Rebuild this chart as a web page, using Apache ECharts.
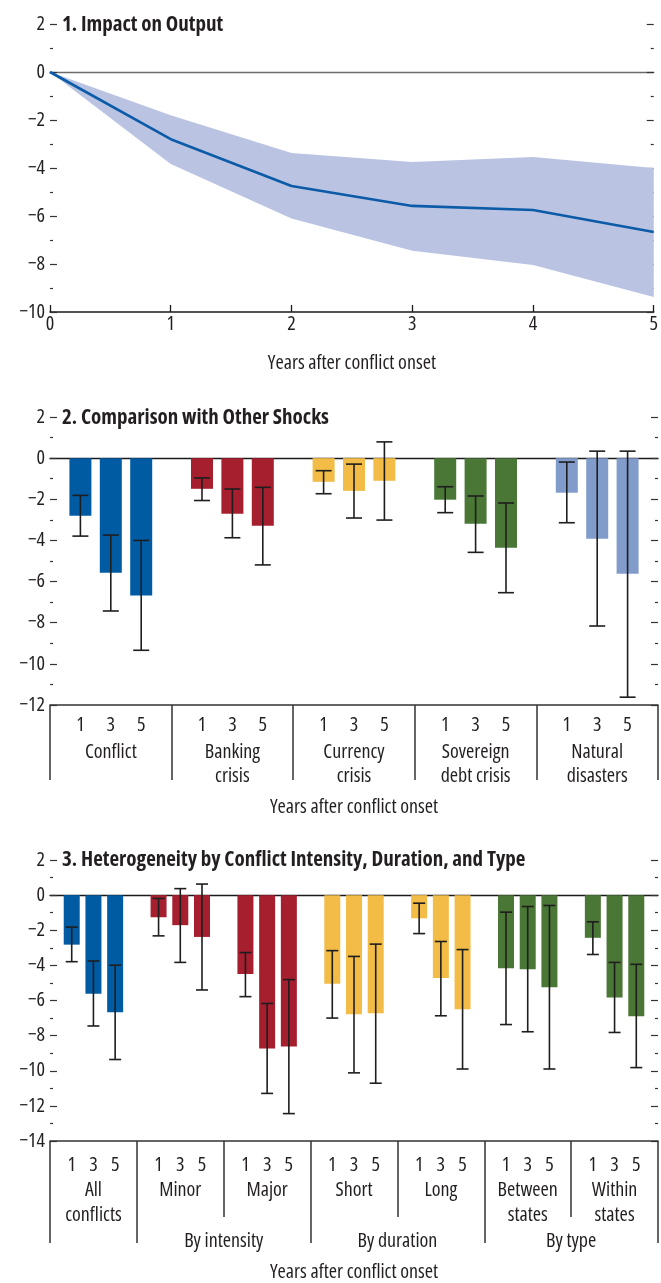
<!DOCTYPE html>
<html><head><meta charset="utf-8">
<script src="https://cdn.jsdelivr.net/npm/echarts@6/dist/echarts.min.js"></script>
<style>html,body{margin:0;padding:0;background:#fff}#c{width:661px;height:1283px}</style>
</head><body><div id="c"></div>
<script>
const FONT = "'Open Sans','DejaVu Sans Condensed',sans-serif";
const TXT = '#231F20';

// ---------- Panel 1: Impact on Output ----------
const p1Years    = [0, 1, 2, 3, 4, 5];
const p1Estimate = [0, -2.8, -4.75, -5.58, -5.75, -6.67];
const p1Upper    = [0, -1.8, -3.37, -3.75, -3.54, -4.0];
const p1Lower    = [0, -3.83, -6.1, -7.45, -8.04, -9.37];

// ---------- Panel 2: Comparison with Other Shocks ----------
const horizonLabels = ['1', '3', '5'];
const p2Groups = ['Conflict', 'Banking\ncrisis', 'Currency\ncrisis', 'Sovereign\ndebt crisis', 'Natural\ndisasters'];
const p2Values = [[-2.8, -5.57, -6.68], [-1.49, -2.7, -3.29], [-1.15, -1.59, -1.1], [-2.02, -3.19, -4.35], [-1.68, -3.92, -5.62]];
const p2High   = [[-1.81, -3.74, -4.0], [-0.96, -1.5, -1.42], [-0.61, -0.29, 0.79], [-1.39, -1.84, -2.18], [-0.19, 0.34, 0.34]];
const p2Low    = [[-3.79, -7.43, -9.34], [-2.06, -3.87, -5.19], [-1.73, -2.91, -3.01], [-2.65, -4.58, -6.54], [-3.14, -8.16, -11.62]];
const p2Colors = ['#005BA3', '#A61F2F', '#F2BC47', '#4A7636', '#819CCB'];

// ---------- Panel 3: Heterogeneity ----------
const p3Groups = ['All\nconflicts', 'Minor', 'Major', 'Short', 'Long', 'Between\nstates', 'Within\nstates'];
const p3SuperGroups = ['By intensity', 'By duration', 'By type'];
const p3SuperSpans  = [[1, 3], [3, 5], [5, 7]];   // group-index boundaries
const p3Values = [[-2.82, -5.61, -6.67], [-1.26, -1.71, -2.38], [-4.49, -8.73, -8.62], [-5.05, -6.78, -6.72], [-1.32, -4.72, -6.5], [-4.16, -4.22, -5.24], [-2.43, -5.83, -6.89]];
const p3High   = [[-1.82, -3.75, -3.99], [-0.19, 0.37, 0.63], [-3.27, -6.17, -4.81], [-3.16, -3.49, -2.79], [-0.46, -2.64, -3.1], [-0.97, -0.65, -0.59], [-1.52, -3.83, -3.94]];
const p3Low    = [[-3.79, -7.45, -9.36], [-2.32, -3.83, -5.4], [-5.78, -11.29, -12.44], [-7.0, -10.12, -10.71], [-2.19, -6.87, -9.9], [-7.37, -7.78, -9.9], [-3.38, -7.82, -9.82]];
const p3Colors = ['#005BA3', '#A61F2F', '#A61F2F', '#F2BC47', '#F2BC47', '#4A7636', '#4A7636'];

const titles = ['1. Impact on Output', '2. Comparison with Other Shocks', '3. Heterogeneity by Conflict Intensity, Duration, and Type'];
const xName = 'Years after conflict onset';

// ---------- helpers ----------
const FS = 20;
const fmtY = v => (v < 0 ? '\u2212' + Math.abs(v) : String(v));
const fmtH = v => { const r = v % 4; return r === 0 ? '' : horizonLabels[r - 1]; };
const txt = (size, extra) => Object.assign({ fontFamily: FONT, fontStyle: 'condensed', fontSize: size, color: TXT }, extra || {});

function yAxes(grid, min, max, right) {
  return {
    type: 'value', gridIndex: grid, min: min, max: max, interval: 2,
    position: right ? 'right' : 'left',
    axisLine: { show: false, onZero: false },
    axisTick: { show: true, inside: true, length: 7, lineStyle: { color: '#333', width: 1.2 } },
    minorTick: { show: true, splitNumber: 2, length: 3, lineStyle: { color: '#333', width: 1.2 } },
    splitLine: { show: false },
    axisLabel: right ? { show: false } : Object.assign(txt(FS), { margin: 5, formatter: fmtY })
  };
}
function zeroAxis(grid, max, color) {
  return {
    type: 'value', gridIndex: grid, min: 0, max: max, position: 'bottom',
    axisLine: { show: true, onZero: true, lineStyle: { color: color, width: 1.4 } },
    axisTick: { show: false }, axisLabel: { show: false }, splitLine: { show: false }
  };
}
function flatBars(values, colors) {
  const out = [];
  values.forEach((g, gi) => g.forEach((v, i) => out.push({ value: [gi * 4 + i + 1, v], itemStyle: { color: colors[gi] } })));
  return out;
}
function flatErr(high, low) {
  const out = [];
  high.forEach((g, gi) => g.forEach((h, i) => out.push([gi * 4 + i + 1, low[gi][i], h])));
  return out;
}
function errRender(capHalf) {
  return function (params, api) {
    const x = api.value(0);
    const a = api.coord([x, api.value(1)]);
    const b = api.coord([x, api.value(2)]);
    const st = { stroke: '#1E1E1E', lineWidth: 1.6 };
    return {
      type: 'group', children: [
        { type: 'line', shape: { x1: a[0], y1: a[1], x2: b[0], y2: b[1] }, style: st },
        { type: 'line', shape: { x1: a[0] - capHalf, y1: a[1], x2: a[0] + capHalf, y2: a[1] }, style: st },
        { type: 'line', shape: { x1: b[0] - capHalf, y1: b[1], x2: b[0] + capHalf, y2: b[1] }, style: st }
      ]
    };
  };
}
function bandRender(params, api) {
  if (params.dataIndexInside !== 0) return { type: 'group', children: [] };
  const n = params.dataInsideLength, top = [], bot = [];
  for (let i = 0; i < n; i++) {
    top.push(api.coord([api.value(0, i), api.value(2, i)]));
    bot.push(api.coord([api.value(0, i), api.value(1, i)]));
  }
  return { type: 'polygon', shape: { points: top.concat(bot.reverse()) }, style: { fill: '#BAC4E2' } };
}

const n2 = p2Groups.length * 4;
const n3 = p3Groups.length * 4;
const longDiv = [0];
p3SuperSpans.forEach(s => { if (longDiv.indexOf(s[0]) < 0) longDiv.push(s[0]); if (longDiv.indexOf(s[1]) < 0) longDiv.push(s[1]); });
const superCenters = p3SuperSpans.map(s => (s[0] + s[1]) / 2);

const option = {
  animation: false,
  backgroundColor: '#fff',
  title: titles.map((t, i) => ({
    text: t, left: 62, top: [15, 408, 850][i], padding: 0,
    textStyle: txt(21, { fontWeight: 'bold' })
  })),
  grid: [
    { left: 50, top: 24, width: 607, height: 288 },
    { left: 50, top: 417, width: 610, height: 288 },
    { left: 50, top: 860, width: 612.5, height: 287 }
  ],
  xAxis: [
    {
      type: 'value', gridIndex: 0, min: 0, max: 5, interval: 1, position: 'bottom',
      name: xName, nameLocation: 'middle', nameGap: 41, nameTextStyle: txt(FS),
      axisLine: { show: true, onZero: false, lineStyle: { color: '#1a1a1a', width: 1.5 } },
      axisTick: { show: true, inside: true, length: 7, lineStyle: { color: '#1a1a1a', width: 1.3 } },
      axisLabel: Object.assign(txt(FS), { margin: 2 }), splitLine: { show: false }
    },
    zeroAxis(0, 5, '#6b6b6b'),
    {
      type: 'value', gridIndex: 1, min: 0, max: n2, interval: 1, position: 'bottom',
      name: xName, nameLocation: 'middle', nameGap: 92, nameTextStyle: txt(FS),
      axisLine: { show: true, onZero: false, lineStyle: { color: '#333', width: 1.5 } },
      axisTick: { show: false },
      axisLabel: Object.assign(txt(FS), { margin: 10, formatter: fmtH }),
      splitLine: { show: false }
    },
    {
      type: 'category', gridIndex: 1, data: p2Groups, position: 'bottom', boundaryGap: true,
      axisLine: { show: false, onZero: false },
      axisTick: { show: true, inside: false, length: 75, alignWithLabel: false, interval: 0, lineStyle: { color: '#333', width: 1.5 } },
      axisLabel: Object.assign(txt(FS), { margin: 35, lineHeight: 24, interval: 0 }),
      splitLine: { show: false }
    },
    zeroAxis(1, n2, '#1a1a1a'),
    {
      type: 'value', gridIndex: 2, min: 0, max: n3, interval: 1, position: 'bottom',
      name: xName, nameLocation: 'middle', nameGap: 121, nameTextStyle: txt(FS),
      axisLine: { show: true, onZero: false, lineStyle: { color: '#333', width: 1.5 } },
      axisTick: { show: false },
      axisLabel: Object.assign(txt(FS), { margin: 14, formatter: fmtH }),
      splitLine: { show: false }
    },
    {
      type: 'category', gridIndex: 2, data: p3Groups, position: 'bottom', boundaryGap: true,
      axisLine: { show: false, onZero: false },
      axisTick: { show: true, inside: false, length: 76, alignWithLabel: false, interval: 0, lineStyle: { color: '#333', width: 1.5 } },
      axisLabel: Object.assign(txt(FS), { margin: 37, lineHeight: 25, interval: 0 }),
      splitLine: { show: false }
    },
    {
      type: 'value', gridIndex: 2, min: 0, max: p3Groups.length, position: 'bottom',
      axisLine: { show: false, onZero: false },
      axisTick: { show: true, inside: false, length: 102, customValues: longDiv, lineStyle: { color: '#333', width: 1.5 } },
      axisLabel: Object.assign(txt(FS), {
        margin: 90, customValues: superCenters,
        formatter: v => { const k = superCenters.indexOf(v); return k >= 0 ? p3SuperGroups[k] : ''; }
      }),
      splitLine: { show: false }
    },
    zeroAxis(2, n3, '#1a1a1a')
  ],
  yAxis: [
    yAxes(0, -10, 2, false), yAxes(0, -10, 2, true),
    yAxes(1, -12, 2, false), yAxes(1, -12, 2, true),
    yAxes(2, -14, 2, false), yAxes(2, -14, 2, true)
  ],
  series: [
    {
      type: 'custom', xAxisIndex: 0, yAxisIndex: 0, z: 1, silent: true, renderItem: bandRender,
      encode: { x: 0, y: [1, 2] }, data: p1Years.map((x, i) => [x, p1Lower[i], p1Upper[i]])
    },
    {
      type: 'line', xAxisIndex: 0, yAxisIndex: 0, z: 5,
      data: p1Years.map((x, i) => [x, p1Estimate[i]]), symbol: 'none',
      lineStyle: { color: '#0C5BA8', width: 2.6 }
    },
    {
      type: 'bar', xAxisIndex: 2, yAxisIndex: 2, barWidth: 22,
      data: flatBars(p2Values, p2Colors)
    },
    {
      type: 'custom', xAxisIndex: 2, yAxisIndex: 2, z: 5, renderItem: errRender(8),
      encode: { x: 0, y: [1, 2] }, data: flatErr(p2High, p2Low)
    },
    {
      type: 'bar', xAxisIndex: 5, yAxisIndex: 4, barWidth: 16,
      data: flatBars(p3Values, p3Colors)
    },
    {
      type: 'custom', xAxisIndex: 5, yAxisIndex: 4, z: 5, renderItem: errRender(6),
      encode: { x: 0, y: [1, 2] }, data: flatErr(p3High, p3Low)
    }
  ]
};
const chart = echarts.init(document.getElementById('c'), null, { renderer: 'canvas' });
chart.setOption(option);
</script>
</body></html>
